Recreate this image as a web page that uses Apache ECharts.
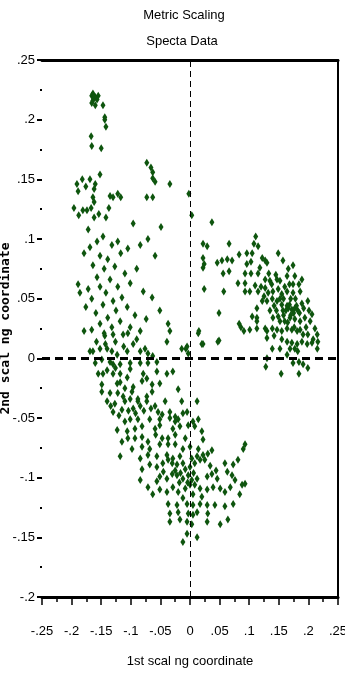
<!DOCTYPE html>
<html>
<head>
<meta charset="utf-8">
<script src="https://cdn.jsdelivr.net/npm/echarts@6/dist/echarts.min.js"></script>
<style>
  html, body { margin: 0; padding: 0; background: #fff; }
  #main { width: 345px; height: 675px; }
</style>
</head>
<body>
<div id="main"></div>
<script>
// 散点数据 [1st, 2nd]，按区域分组
var topArm = [
  [-0.166,0.220],[-0.164,0.222],[-0.160,0.219],[-0.155,0.220],[-0.164,0.216],[-0.166,0.214],
  [-0.160,0.212],[-0.157,0.217],[-0.162,0.219],[-0.147,0.212],[-0.144,0.202],[-0.144,0.200],
  [-0.142,0.194],[-0.167,0.186],[-0.166,0.178],[-0.150,0.176],[-0.073,0.164],[-0.066,0.160],
  [-0.063,0.156],[-0.063,0.151],[-0.059,0.148],[-0.034,0.146],[-0.152,0.154],[-0.191,0.146],
  [-0.182,0.150],[-0.169,0.150],[-0.160,0.146],[-0.176,0.144],[-0.189,0.140],[-0.162,0.142],
  [-0.135,0.136],[-0.130,0.135],[-0.122,0.138],[-0.117,0.135],[-0.164,0.135],[-0.162,0.131],
  [-0.073,0.135],[-0.063,0.135],[-0.196,0.126],[-0.181,0.124],[-0.174,0.124],[-0.167,0.126],
  [-0.137,0.126],[-0.188,0.120],[-0.154,0.121],[-0.162,0.118],[-0.142,0.118],[-0.096,0.113],
  [-0.049,0.110],[-0.172,0.108],[-0.002,0.138],[0.003,0.120]
];

var leftArm = [
  [-0.157,0.098],[-0.147,0.102],[-0.132,0.095],[-0.122,0.098],[-0.169,0.093],[-0.179,0.088],
  [-0.152,0.086],[-0.139,0.083],[-0.117,0.088],[-0.105,0.092],[-0.084,0.095],[-0.071,0.100],
  [-0.059,0.086],[-0.164,0.078],[-0.145,0.075],[-0.127,0.077],[-0.157,0.068],[-0.135,0.066],
  [-0.110,0.071],[-0.090,0.075],[-0.189,0.062],[-0.186,0.055],[-0.172,0.058],[-0.152,0.060],
  [-0.142,0.055],[-0.122,0.060],[-0.101,0.063],[-0.079,0.056],[-0.064,0.051],[-0.166,0.050],
  [-0.130,0.048],[-0.115,0.051],[-0.147,0.045],[-0.176,0.043],[-0.159,0.038],[-0.139,0.034],
  [-0.125,0.040],[-0.106,0.043],[-0.093,0.036],[-0.074,0.033],[-0.051,0.040],[-0.037,0.029],
  [-0.152,0.029],[-0.132,0.026],[-0.166,0.024],[-0.118,0.031],[-0.101,0.026],[-0.084,0.023],
  [-0.145,0.021],[-0.179,0.023],[-0.034,0.023],[-0.014,0.008],[-0.003,0.004],
  [-0.144,0.019],[-0.130,0.020],[-0.113,0.020],[-0.105,0.021],[-0.090,0.016],[-0.039,0.014],
  [-0.005,0.010],[0.014,0.021],[0.022,0.012],[0.047,0.014],[-0.169,0.006],[-0.164,0.006],
  [-0.152,0.008],[-0.140,0.008],[-0.132,0.006],[-0.123,0.003],[-0.106,0.006],[-0.084,0.006],
  [-0.076,0.008],[-0.071,0.004],[-0.063,0.002],[-0.160,-0.004],[-0.149,-0.001],[-0.135,-0.003],
  [-0.130,-0.005],[-0.118,-0.005],[-0.101,-0.004],[-0.084,-0.004],[-0.071,-0.004],[-0.056,-0.003],
  [-0.155,-0.013],[-0.147,-0.013],[-0.130,-0.013],[-0.118,-0.013],[-0.101,-0.009],[-0.079,-0.013],
  [-0.073,-0.017],[-0.056,-0.011],[-0.039,-0.013],[-0.029,-0.011],[-0.149,-0.022],[-0.123,-0.021],
  [-0.110,-0.025],[-0.096,-0.024],[-0.081,-0.019],[-0.064,-0.022],[-0.051,-0.021],[-0.020,-0.026],
  [-0.149,-0.028],[-0.135,-0.029],[-0.122,-0.029],[-0.113,-0.032],[-0.098,-0.028],[-0.088,-0.034],
  [-0.073,-0.032],[-0.064,-0.028],[-0.140,-0.036],[-0.127,-0.038],[-0.110,-0.036],[-0.101,-0.034],
  [-0.088,-0.036],[-0.073,-0.036],[-0.059,-0.040],[-0.042,-0.036],[-0.014,-0.036],[0.012,-0.036],
  [-0.130,-0.045],[-0.115,-0.043],[-0.096,-0.042],[-0.084,-0.040],[-0.054,-0.045],[-0.047,-0.047],
  [-0.034,-0.045],[-0.025,-0.049],[-0.012,-0.046],[-0.005,-0.045],[-0.110,-0.053],[-0.101,-0.051],
  [-0.088,-0.051],[-0.068,-0.051],[-0.051,-0.051],[-0.034,-0.050],[-0.025,-0.053],[-0.020,-0.051],
  [0.005,-0.053],[0.014,-0.051],[-0.123,-0.060],[-0.106,-0.061],[-0.093,-0.059],[-0.081,-0.057],
  [-0.059,-0.059],[-0.051,-0.056],[-0.029,-0.059],[-0.017,-0.057],[-0.003,-0.056],[0.008,-0.057],
  [-0.105,-0.067],[-0.093,-0.067],[-0.081,-0.066],[-0.071,-0.070],[-0.047,-0.067],[-0.037,-0.067],
  [-0.025,-0.064],[-0.008,-0.067],[0.020,-0.061],[0.022,-0.068],
  [-0.143,0.012],[-0.126,0.014],[-0.118,-0.020],[-0.106,-0.016],[-0.140,-0.010],[-0.126,-0.008],
  [-0.112,0.010],[-0.096,0.012],[-0.158,0.014],[-0.134,-0.040],[-0.120,-0.048],[-0.104,-0.044],
  [-0.092,-0.046],[-0.078,-0.044],[-0.066,-0.042],[-0.115,-0.070],[-0.058,-0.064]
];

var lowCluster = [
  [-0.098,-0.076],[-0.081,-0.074],[-0.068,-0.076],[-0.051,-0.072],[-0.037,-0.072],[-0.025,-0.072],
  [-0.012,-0.076],[0.000,-0.074],[0.014,-0.076],[0.037,-0.077],[-0.118,-0.082],[-0.084,-0.084],
  [-0.071,-0.081],[-0.056,-0.082],[-0.039,-0.081],[-0.029,-0.084],[-0.017,-0.082],[0.003,-0.084],
  [0.012,-0.082],[0.022,-0.081],[0.030,-0.080],[-0.081,-0.093],[-0.068,-0.089],[-0.056,-0.091],
  [-0.046,-0.088],[-0.037,-0.085],[-0.030,-0.088],[-0.022,-0.089],[-0.012,-0.088],[0.000,-0.091],
  [0.008,-0.088],[0.017,-0.085],[0.025,-0.085],[-0.084,-0.102],[-0.071,-0.108],[-0.056,-0.103],
  [-0.051,-0.099],[-0.039,-0.101],[-0.030,-0.097],[-0.022,-0.098],[-0.012,-0.101],[-0.003,-0.098],
  [0.003,-0.102],[0.012,-0.101],[0.029,-0.099],[0.037,-0.097],[0.046,-0.101],[-0.063,-0.114],
  [-0.051,-0.110],[-0.039,-0.112],[-0.029,-0.108],[-0.020,-0.112],[-0.008,-0.109],[0.000,-0.106],
  [0.005,-0.114],[0.017,-0.109],[0.029,-0.110],[0.039,-0.108],[0.051,-0.109],[0.059,-0.112],
  [-0.037,-0.122],[-0.022,-0.123],[-0.005,-0.122],[0.005,-0.123],[0.017,-0.122],[0.029,-0.123],
  [0.042,-0.123],[0.059,-0.124],[0.073,-0.122],[-0.034,-0.130],[-0.020,-0.129],[-0.003,-0.130],
  [0.005,-0.131],[0.012,-0.129],[0.030,-0.130],[-0.034,-0.137],[-0.017,-0.135],[-0.005,-0.137],
  [0.003,-0.139],[0.029,-0.137],[0.051,-0.139],[0.064,-0.135],[-0.005,-0.147],[0.012,-0.150],
  [-0.012,-0.154],
  [-0.025,-0.094],[-0.016,-0.096],[-0.008,-0.093],[0.006,-0.096],[-0.018,-0.104],[-0.004,-0.104],
  [0.008,-0.106],[0.020,-0.116],[-0.012,-0.117],[-0.045,-0.095],[0.034,-0.090],[0.044,-0.094],
  [0.090,-0.076],[0.093,-0.072],[0.081,-0.085],[0.059,-0.088],[0.073,-0.089],[0.063,-0.095],
  [0.071,-0.098],[0.076,-0.102],[0.088,-0.106],[0.093,-0.105],[0.084,-0.114],[0.068,-0.108]
];

var rightCluster = [
  [0.037,0.114],[0.022,0.096],[0.029,0.094],[0.066,0.096],[0.111,0.102],[0.108,0.096],
  [0.115,0.094],[0.022,0.084],[0.024,0.079],[0.022,0.076],[0.046,0.080],[0.054,0.082],
  [0.063,0.083],[0.071,0.082],[0.056,0.071],[0.066,0.073],[0.083,0.087],[0.096,0.088],
  [0.105,0.088],[0.103,0.081],[0.096,0.079],[0.093,0.071],[0.122,0.084],[0.127,0.082],
  [0.130,0.080],[0.149,0.088],[0.157,0.082],[0.174,0.078],[0.166,0.075],[0.118,0.076],
  [0.103,0.071],[0.115,0.071],[0.133,0.071],[0.127,0.066],[0.135,0.065],[0.147,0.066],
  [0.152,0.065],[0.164,0.069],[0.177,0.069],[0.189,0.066],[0.184,0.062],[0.174,0.062],
  [0.081,0.063],[0.093,0.063],[0.093,0.056],[0.101,0.056],[0.110,0.061],[0.115,0.056],
  [0.127,0.059],[0.132,0.055],[0.140,0.056],[0.149,0.058],[0.155,0.054],[0.164,0.056],
  [0.174,0.055],[0.186,0.056],[0.024,0.058],[0.057,0.056],[0.122,0.048],[0.130,0.048],
  [0.139,0.050],[0.147,0.048],[0.155,0.045],[0.166,0.042],[0.172,0.041],[0.177,0.042],
  [0.182,0.040],[0.157,0.040],[0.164,0.044],[0.189,0.046],[0.199,0.048],[0.201,0.040],
  [0.206,0.037],[0.113,0.042],[0.105,0.035],[0.113,0.034],[0.113,0.031],[0.049,0.038],
  [0.135,0.040],[0.140,0.034],[0.149,0.035],[0.152,0.031],[0.160,0.031],[0.169,0.034],
  [0.177,0.033],[0.186,0.031],[0.194,0.034],[0.203,0.031],[0.211,0.025],[0.215,0.020],
  [0.216,0.014],[0.208,0.016],[0.199,0.020],[0.191,0.020],[0.181,0.023],[0.172,0.024],
  [0.164,0.025],[0.155,0.023],[0.147,0.024],[0.139,0.025],[0.130,0.023],[0.127,0.025],
  [0.113,0.025],[0.101,0.024],[0.091,0.023],[0.083,0.029],[0.086,0.026],[0.015,0.023],
  [0.020,0.012],[0.049,0.015],[-0.007,0.008],[0.130,0.017],[0.142,0.019],[0.155,0.016],
  [0.164,0.014],[0.172,0.013],[0.181,0.012],[0.189,0.014],[0.198,0.012],[0.206,0.013],
  [0.215,0.008],[0.139,0.008],[0.152,0.008],[0.169,0.008],[0.177,0.008],[0.182,0.006],
  [0.130,0.000],[0.164,0.003],[0.128,-0.007],[0.174,-0.004],[0.184,-0.003],[0.191,-0.005],
  [0.199,-0.008],[0.184,-0.013],[0.154,-0.013],
  [0.168,0.045],[0.175,0.038],[0.170,0.036],[0.162,0.040],[0.180,0.044],[0.158,0.050],
  [0.170,0.050],[0.165,0.030],[0.138,0.062],[0.145,0.070],[0.120,0.060],[0.125,0.052],
  [0.160,0.060],[0.168,0.062],[0.178,0.050],[0.185,0.038],[0.192,0.042],[0.146,0.040],
  [0.152,0.050],[0.158,0.036],[0.176,0.026],[0.186,0.024],[0.196,0.026],[0.142,0.044]
];

var points = topArm.concat(leftArm, lowCluster, rightCluster);

// 刻度标签：去掉前导 0
function tickLabel(v) {
  v = Number(v.toFixed(3));
  if (v === 0) return '0';
  return String(v).replace('0.', '.');
}

var labelFont = '"Liberation Sans", Arial, sans-serif';

var chart = echarts.init(document.getElementById('main'));

var option = {
  animation: false,
  backgroundColor: '#fff',
  title: [
    { text: 'Metric Scaling', left: 179, top: 4, textAlign: 'center',
      textStyle: { fontFamily: labelFont, fontSize: 13, fontWeight: 'normal', color: '#000' } },
    { text: 'Specta Data', left: 177, top: 30, textAlign: 'center',
      textStyle: { fontFamily: labelFont, fontSize: 13, fontWeight: 'normal', color: '#000' } }
  ],
  grid: { left: 42, right: 7, top: 60, bottom: 78, containLabel: false, outerBoundsMode: 'none' },
  xAxis: [
    {
      type: 'value', min: -0.25, max: 0.25, interval: 0.05,
      name: '1st scal ng coordinate', nameLocation: 'middle', nameGap: 58, nameMoveOverlap: false,
      nameTextStyle: { fontFamily: labelFont, fontSize: 13, color: '#000' },
      axisLine: { onZero: false, lineStyle: { color: '#000', width: 3 } },
      axisTick: { length: 8, lineStyle: { color: '#000', width: 1.5 } },
      minorTick: { show: true, splitNumber: 2, length: 5, lineStyle: { color: '#000', width: 1.5 } },
      axisLabel: { margin: 28, formatter: tickLabel, fontFamily: labelFont, fontSize: 13, color: '#000' },
      splitLine: { show: false }
    },
    {
      type: 'value', position: 'top', min: -0.25, max: 0.25,
      axisLine: { onZero: false, lineStyle: { color: '#000', width: 3 } },
      axisTick: { show: false }, axisLabel: { show: false }, splitLine: { show: false }
    }
  ],
  yAxis: [
    {
      type: 'value', min: -0.2, max: 0.25, interval: 0.05,
      name: '2nd scal ng coordinate', nameLocation: 'middle', nameGap: 30, nameRotate: 90,
      nameMoveOverlap: false,
      nameTextStyle: { fontFamily: '"DejaVu Sans Mono", monospace', fontWeight: 'bold', fontSize: 13, color: '#000' },
      axisLine: { show: false, onZero: false },
      axisTick: { show: true, length: 5, lineStyle: { color: '#000', width: 2 } },
      minorTick: { show: true, splitNumber: 2, length: 2, lineStyle: { color: '#000', width: 2 } },
      axisLabel: { margin: 7, formatter: tickLabel, fontFamily: labelFont, fontSize: 13, color: '#000' },
      splitLine: { show: false }
    },
    {
      type: 'value', position: 'right', min: -0.2, max: 0.25,
      axisLine: { show: true, onZero: false, lineStyle: { color: '#000', width: 2 } },
      axisTick: { show: false }, axisLabel: { show: false }, splitLine: { show: false }
    }
  ],
  series: [{
    type: 'scatter',
    data: points,
    symbol: 'diamond',
    symbolSize: [5, 8],
    itemStyle: { color: '#0e550e', opacity: 1 },
    markLine: {
      silent: true,
      symbol: 'none',
      label: { show: false },
      data: [
        { yAxis: 0, lineStyle: { color: '#000', width: 3, type: [8, 5] } },
        { xAxis: 0, lineStyle: { color: '#000', width: 1, type: [6, 4] } }
      ]
    }
  }]
};

chart.setOption(option);
</script>
</body>
</html>
